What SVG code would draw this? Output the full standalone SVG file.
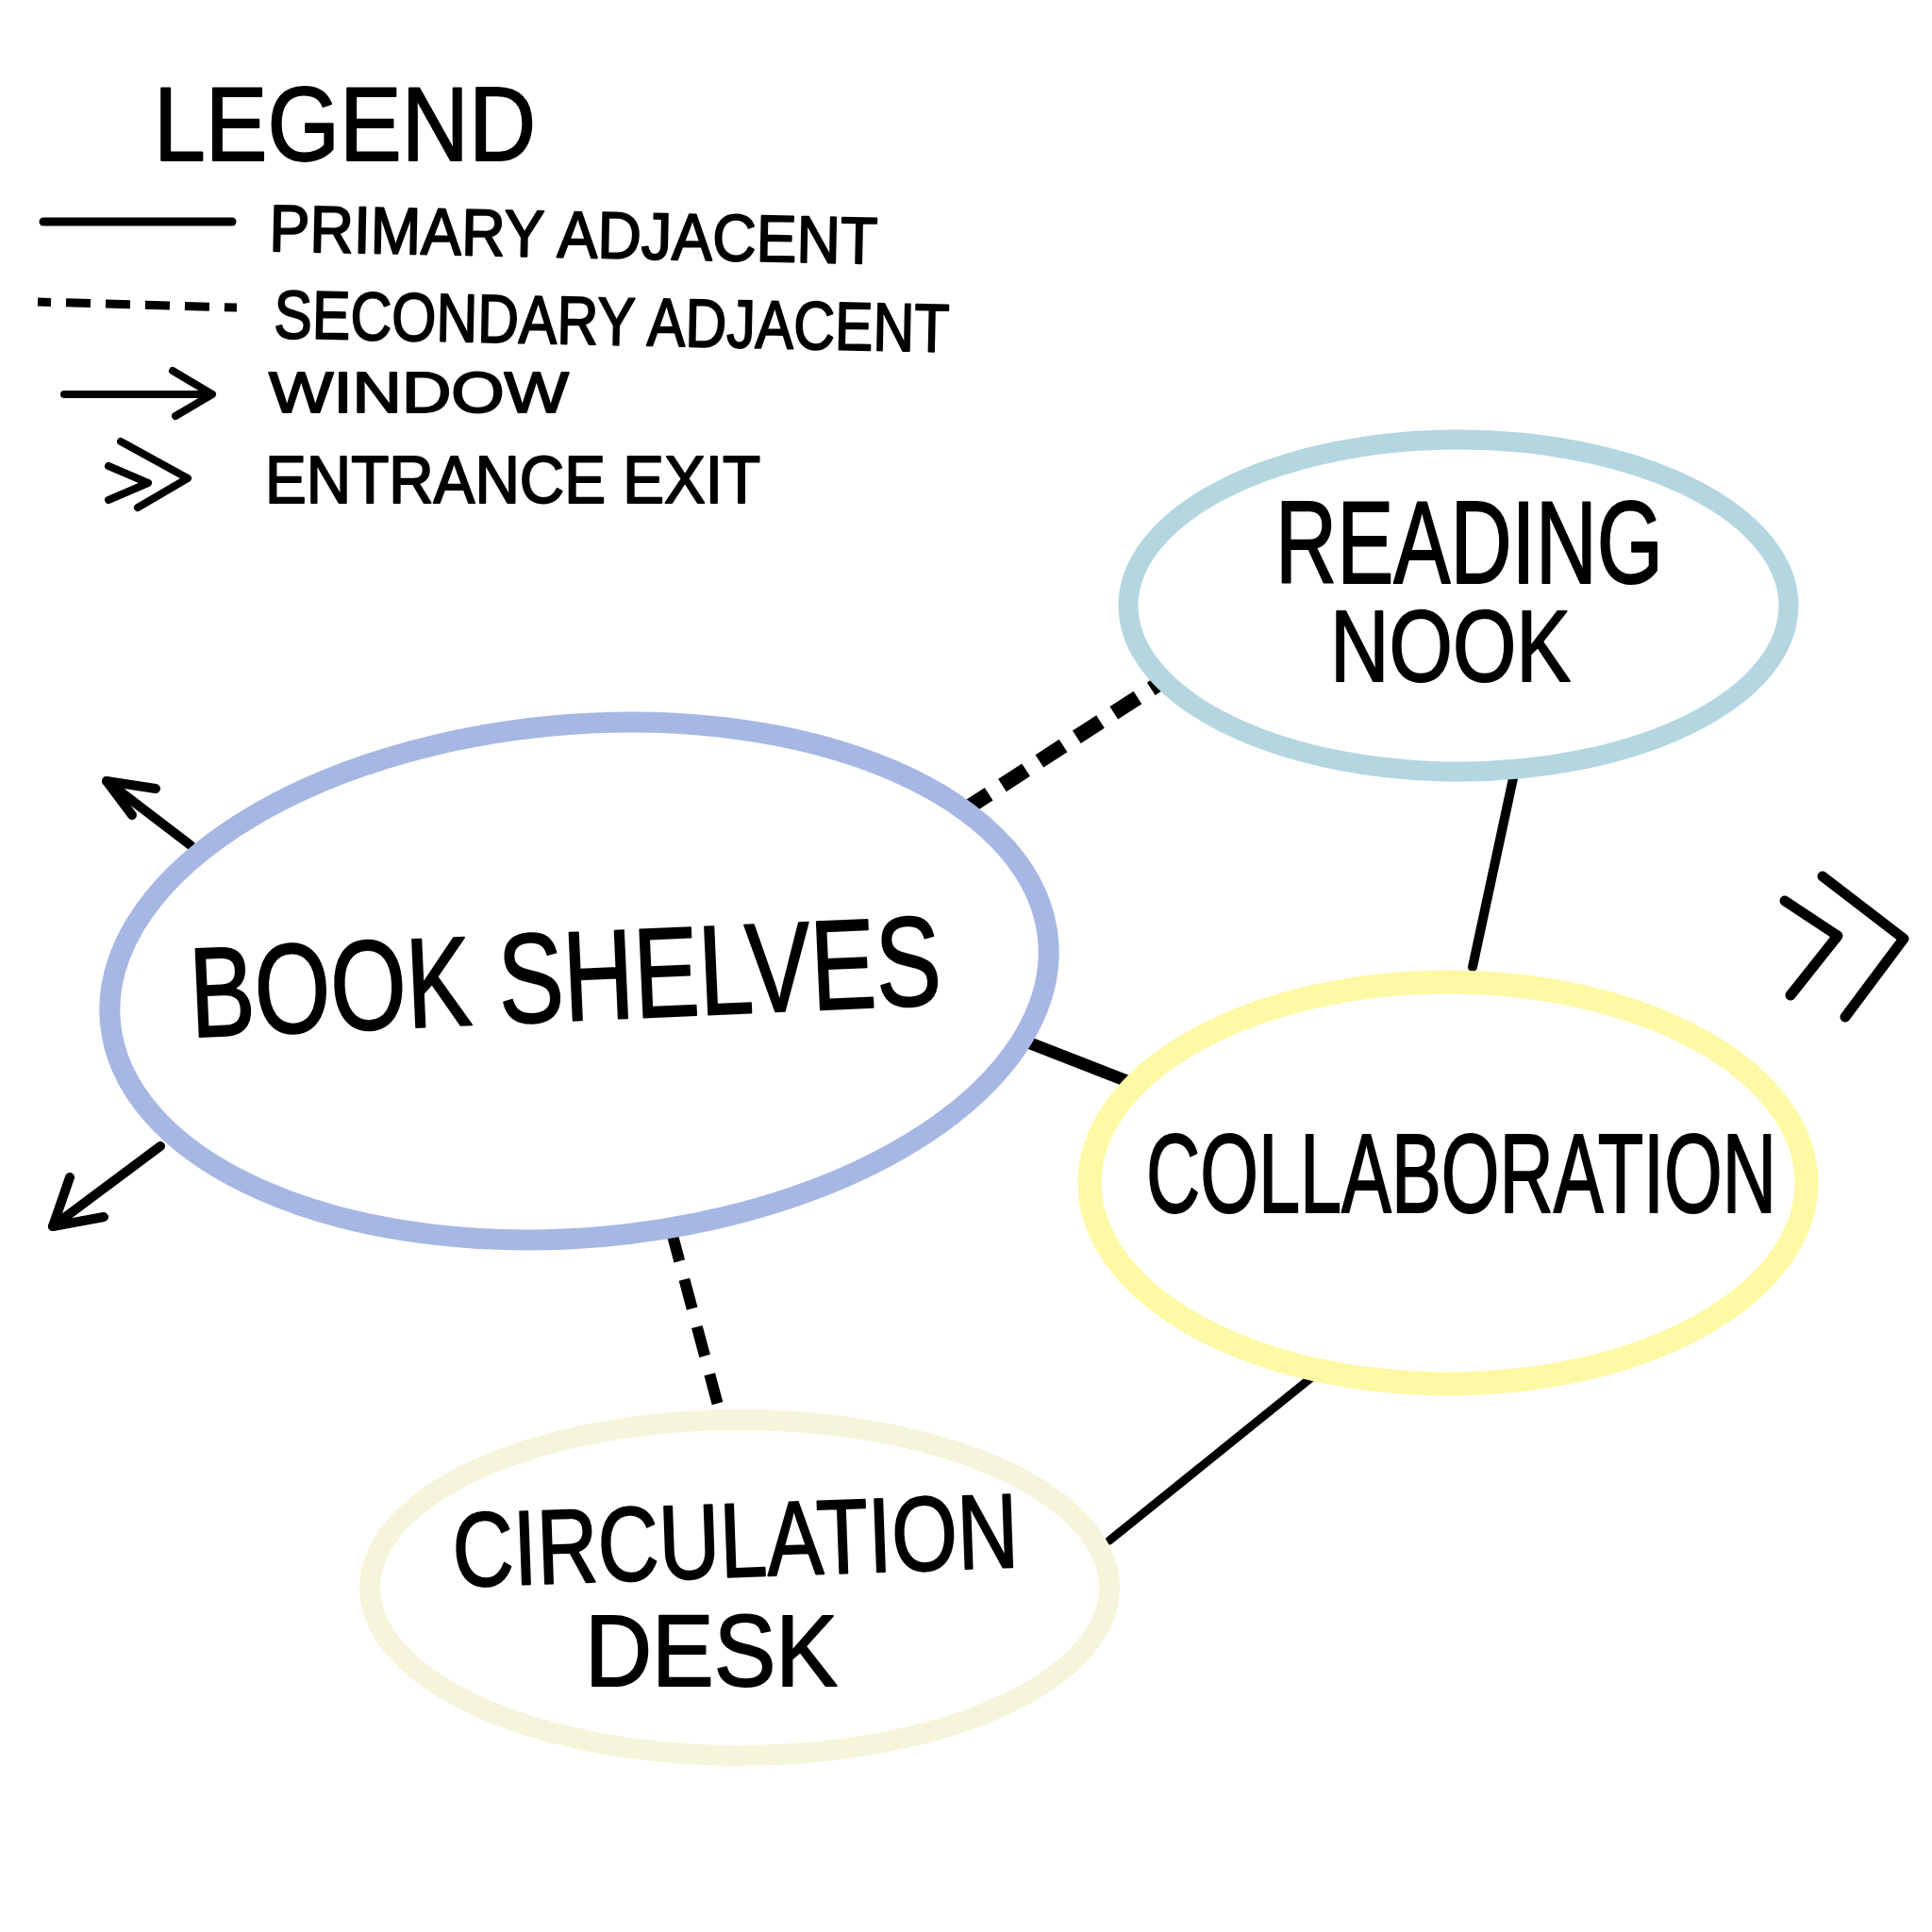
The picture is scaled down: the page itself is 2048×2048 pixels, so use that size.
<svg xmlns="http://www.w3.org/2000/svg" width="2048" height="2048" viewBox="0 0 2048 2048">
<style>
.bg{fill:#ffffff}
.t{font-family:"Liberation Sans Narrow","Liberation Sans","DejaVu Sans",sans-serif;fill:#000;stroke:#000;stroke-width:2;stroke-linejoin:round}
.ln{fill:none;stroke:#000;stroke-linecap:round;stroke-linejoin:round}
.dash{fill:none;stroke:#000;stroke-linecap:butt}
.ring{fill:none}
</style>
<rect class="bg" x="0" y="0" width="2048" height="2048"/>

<g id="legend">
  <text class="t" x="163" y="170" font-size="112" textLength="405" lengthAdjust="spacingAndGlyphs">LEGEND</text>
  <line class="ln" x1="46" y1="235" x2="246" y2="235" stroke-width="9"/>
  <text class="t" x="285" y="266" font-size="70" textLength="645" lengthAdjust="spacingAndGlyphs" transform="rotate(1.2 285 266)">PRIMARY ADJACENT</text>
  <line class="dash" x1="40" y1="320" x2="251" y2="326" stroke-width="9" stroke-dasharray="14 16 26 16 26 16 26 16 26 16 40"/>
  <text class="t" x="290" y="358" font-size="72" textLength="716" lengthAdjust="spacingAndGlyphs" transform="rotate(1.2 290 358)">SECONDARY ADJACENT</text>
  <line class="ln" x1="68" y1="418" x2="223" y2="418" stroke-width="8"/>
  <polyline class="ln" points="183,393 225,418 186,441" stroke-width="8"/>
  <text class="t" x="285" y="437" font-size="62" textLength="318" lengthAdjust="spacingAndGlyphs">WINDOW</text>
  <polyline class="ln" points="115,494 157,512 115,530" stroke-width="8"/>
  <polyline class="ln" points="128,468 199,507 146,538" stroke-width="8"/>
  <text class="t" x="281" y="533" font-size="70" textLength="525" lengthAdjust="spacingAndGlyphs">ENTRANCE EXIT</text>
</g>

<g id="connectors">
  <line class="dash" x1="1023" y1="858" x2="1236" y2="720" stroke-width="16" stroke-dasharray="30 17"/>
  <line class="ln" x1="1604" y1="825" x2="1561" y2="1025" stroke-width="10"/>
  <line class="ln" x1="1082" y1="1102" x2="1200" y2="1148" stroke-width="13"/>
  <line class="dash" x1="712" y1="1306" x2="763" y2="1497" stroke-width="12" stroke-dasharray="32 20"/>
  <line class="ln" x1="1398" y1="1454" x2="1176" y2="1633" stroke-width="9"/>
</g>

<g id="windows">
  <line class="ln" x1="202" y1="896" x2="113" y2="828" stroke-width="10"/>
  <polyline class="ln" points="165,836 113,828 140,864" stroke-width="10"/>
  <line class="ln" x1="170" y1="1215" x2="56" y2="1300" stroke-width="10"/>
  <polyline class="ln" points="74,1248 56,1300 110,1290" stroke-width="10"/>
</g>

<g id="entrance">
  <polyline class="ln" points="1892,955 1948,992 1898,1055" stroke-width="11"/>
  <polyline class="ln" points="1932,929 2018,995 1956,1078" stroke-width="11"/>
</g>

<g id="node-reading-nook">
  <ellipse class="ring" cx="1546" cy="642" rx="350" ry="176" stroke="#b4d6e1" stroke-width="21"/>
  <text class="t" x="1352" y="618" font-size="125" textLength="411" lengthAdjust="spacingAndGlyphs">READING</text>
  <text class="t" x="1410" y="722" font-size="108" textLength="255" lengthAdjust="spacingAndGlyphs">NOOK</text>
</g>

<g id="node-book-shelves">
  <ellipse class="ring" cx="614" cy="1040" rx="499" ry="272" stroke="#a6b7e4" stroke-width="22" transform="rotate(-5 614 1040)"/>
  <text class="t" x="202" y="1082" font-size="135" textLength="797" lengthAdjust="spacingAndGlyphs" transform="rotate(-2.5 600 1070)">BOOK SHELVES</text>
</g>

<g id="node-collaboration">
  <ellipse class="ring" cx="1535" cy="1254" rx="380" ry="213" stroke="#fef9a4" stroke-width="25"/>
  <text class="t" x="1215" y="1285" font-size="118" textLength="668" lengthAdjust="spacingAndGlyphs">COLLABORATION</text>
</g>

<g id="node-circulation-desk">
  <ellipse class="ring" cx="784" cy="1683" rx="392" ry="178" stroke="#f5f5dc" stroke-width="22"/>
  <text class="t" x="481" y="1682" font-size="112" textLength="600" lengthAdjust="spacingAndGlyphs" transform="rotate(-2 481 1682)">CIRCULATION</text>
  <text class="t" x="620" y="1787" font-size="108" textLength="268" lengthAdjust="spacingAndGlyphs">DESK</text>
</g>
</svg>
